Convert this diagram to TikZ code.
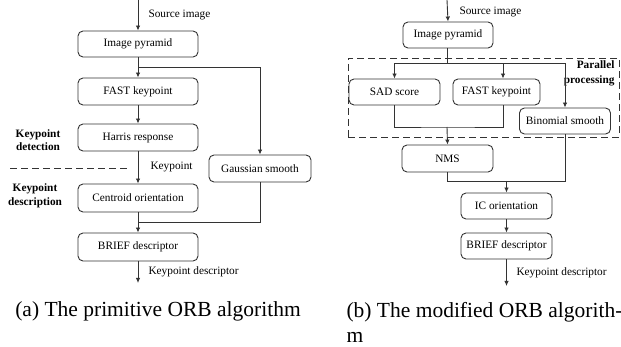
\documentclass[tikz,border=0pt]{standalone}
\usepackage{fontspec}
\setmainfont{Liberation Serif}
\usetikzlibrary{arrows.meta,positioning,calc}
\definecolor{ink}{HTML}{333333}

\begin{document}
\begin{tikzpicture}[
  x=1pt,y=-1pt,
  font=\fontsize{11.3}{13}\selectfont,
  box/.style={rounded corners=5pt,draw=ink,line width=0.9pt,minimum height=26pt,inner sep=2pt,align=center},
  side/.style={font=\fontsize{11.3}{13.5}\selectfont\bfseries,align=center},
  subcap/.style={font=\fontsize{21.5}{24.5}\selectfont,align=left},
  arr/.style={-{Latex[length=5pt,width=4.5pt]},line width=0.9pt,draw=ink},
  ln/.style={line width=0.9pt,draw=ink},
  sep/.style={line width=0.9pt,draw=ink,dash pattern=on 7pt off 4pt}
]
\useasboundingbox (0,0) rectangle (621,347);

% (a) primitive ORB
\node[box,minimum width=120pt] (pyr) at (138,44) {Image pyramid};
\node[box,minimum width=120pt,minimum height=27pt] (fast) at (138,91.5) {FAST keypoint};
\node[box,minimum width=120pt,minimum height=27pt] (harris) at (138,137.5) {Harris response};
\node[box,minimum width=102pt,minimum height=27pt] (gauss) at (260,168.5) {Gaussian smooth};
\node[box,minimum width=120pt,minimum height=28pt] (cent) at (138,198) {Centroid orientation};
\node[box,minimum width=120pt,minimum height=28pt] (brief) at (138,247) {BRIEF descriptor};

\coordinate (in) at (138,0);
\coordinate (out) at (138,283);
\node[anchor=west] (src) at (145,15) {Source image};
\node[anchor=west] (kp) at (147,167) {Keypoint};
\node[anchor=west] (desc) at (145,272) {Keypoint descriptor};
\node[side] (det) at (38,140) {Keypoint\\detection};
\node[side] (dsc) at (35,196) {Keypoint\\description};
\coordinate (sepl) at (10,168);
\coordinate (sepr) at (128,168);

\draw[arr] (in) -- (pyr.north);
\draw[arr] (pyr) -- (fast);
\draw[arr] ($(pyr.south)!0.5!(fast.north)$) -| (gauss.north);
\draw[arr] (fast) -- (harris);
\draw[arr] (harris) -- (cent);
\draw[arr] (cent) -- (brief);
\draw[ln] (gauss.south) |- ($(cent.south)!0.5!(brief.north)$);
\draw[arr] (brief.south) -- (out);
\draw[sep] (sepl) -- (sepr);

\node[subcap] (capa) at (158,311) {(a) The primitive ORB algorithm};

% (b) modified ORB
\node[draw=ink,sep,minimum width=271pt,minimum height=79pt] (par) at (483.5,97.5) {};
\node[side,font=\fontsize{11.3}{15}\selectfont\bfseries,align=right,anchor=north east] (partxt) at (618,57) {Parallel\\processing};
\node[box,minimum width=90pt] (pyr2) at (448,35) {Image pyramid};
\node[box,minimum width=91pt] (sad) at (394.5,92) {SAD score};
\node[box,minimum width=87pt] (fast2) at (496.5,92) {FAST keypoint};
\node[box,minimum width=91pt] (binom) at (565,121) {Binomial smooth};
\node[box,minimum width=91pt,minimum height=27pt] (nms) at (447.5,158.5) {NMS};
\node[box,minimum width=91pt] (ic) at (506.5,206) {IC orientation};
\node[box,minimum width=91pt] (brief2) at (506.5,246) {BRIEF descriptor};

\coordinate (in2) at (447,0);
\coordinate (out2) at (506.5,286);
\coordinate (split) at (447,63);
\coordinate (join) at (447,127);
\coordinate (fasttop) at ($(fast2.north)+(6.5,0)$);
\coordinate (fastbot) at ($(fast2.south)+(6.5,0)$);
\node[anchor=west] (src2) at (456,12) {Source image};
\node[anchor=west] (desc2) at (513,273) {Keypoint descriptor};

\draw[arr] (in2) -- (pyr2.north);
\draw[ln] (pyr2.south -| split) -- (split);
\draw[arr] (split) -| (sad.north);
\draw[arr] (split) -| (fasttop);
\draw[arr] (split) -| (binom.north);
\draw[ln] (sad.south) |- (join) -| (fastbot);
\draw[arr] (join) -- (nms.north);
\draw[ln] (binom.south) |- (nms.south |- 0,181) -- (nms.south);
\draw[arr] (ic.north |- 0,181) -- (ic.north);
\draw[arr] (ic) -- (brief2);
\draw[arr] (brief2.south) -- (out2);

\node[subcap,anchor=north west] (capb) at (343,299) {(b) The modified ORB algorith-\\m};
\end{tikzpicture}
\end{document}
